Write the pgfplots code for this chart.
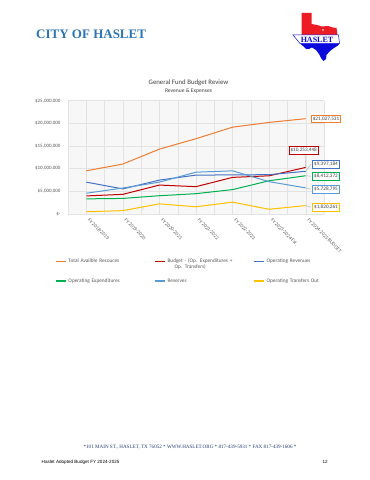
\documentclass[border=0pt]{standalone}
\usepackage{pgfplots}
\pgfplotsset{compat=1.18}
\usepackage{fontspec}
\setmainfont{Carlito}
\newfontfamily\tnr{Liberation Serif}
\newfontfamily\arial{Liberation Sans}
\definecolor{cOrange}{RGB}{237,125,49}
\definecolor{cRed}{RGB}{192,0,0}
\definecolor{cBlue}{RGB}{68,114,196}
\definecolor{cGreen}{RGB}{0,176,80}
\definecolor{cLBlue}{RGB}{91,155,213}
\definecolor{cYellow}{RGB}{255,192,0}
\definecolor{tgray}{RGB}{89,89,89}
\definecolor{dgray}{RGB}{64,64,64}
\definecolor{hdrblue}{RGB}{46,117,182}
\definecolor{txred}{RGB}{237,28,36}
\definecolor{txblue}{RGB}{10,10,220}
\definecolor{footblue}{RGB}{40,60,120}
\tikzset{legtext/.style={text width=84pt, align=left, text height=3.7pt, text depth=1pt},
  lbl/.style={fill=white, line width=0.8pt, inner sep=1.6pt, text=dgray, font=\fontsize{5.2}{6}\selectfont}}
\begin{document}
\begin{tikzpicture}
\path[use as bounding box, fill=white] (0pt,0pt) rectangle (370pt,480pt);
% header
\node[anchor=base west, inner sep=0, text=hdrblue, font=\tnr\bfseries\fontsize{13}{14}\selectfont] at (36pt,441pt) {CITY OF HASLET};
% logo
\fill[txred] (301.5pt,467pt) -- (311.5pt,467pt) -- (311.5pt,456pt) -- (317pt,455pt) -- (322pt,453.5pt) -- (328pt,454pt) -- (333pt,452.5pt) -- (336.5pt,452pt) -- (337.5pt,445pt) -- (301.5pt,445pt) -- cycle;
\fill[white] (323pt,450pt) circle (0.8pt);
\fill[txblue] (300pt,436.5pt) -- (303pt,434pt) -- (306pt,431pt) -- (309pt,431pt) -- (312pt,432.5pt) -- (316pt,430pt) -- (319pt,426pt) -- (321pt,422pt) -- (323.5pt,419pt) -- (326pt,421pt) -- (326.5pt,425pt) -- (330pt,429pt) -- (334pt,432pt) -- (338pt,434.5pt) -- (339.5pt,436.5pt) -- cycle;
\draw[txblue, fill=white, line width=0.5pt] (293pt,445pt) -- (338.5pt,445pt) -- (339.5pt,436.5pt) -- (300pt,436.5pt) -- cycle;
\node[text=txblue, font=\tnr\bfseries\fontsize{8}{9}\selectfont, inner sep=0] at (317pt,440.6pt) {HASLET};
% chart titles
\node[font=\fontsize{6.8}{8}\selectfont, text=dgray] at (188.5pt,397.3pt) {General Fund Budget Review};
\node[font=\fontsize{5.6}{7}\selectfont, text=dgray] at (188.5pt,389.3pt) {Revenue \& Expenses};
\begin{axis}[
  at={(68pt,266.2pt)}, anchor=south west,
  scale only axis, width=256pt, height=113.1pt,
  xmin=-0.5, xmax=6.5, ymin=0, ymax=25000000,
  axis line style={draw=none},
  axis background/.style={fill=gray!6},
  xtick={0,...,6},
  xticklabels={FY 2018-2019, FY 2019-2020, FY 2020-2021, FY 2021-2022, FY 2022-2023, FY 2023-2024 Est., FY 2024-2025 BUDGET},
  minor xtick={-0.5,0.5,...,6.5},
  ytick={0,5000000,10000000,15000000,20000000,25000000},
  yticklabels={{\$-},{\$5,000,000},{\$10,000,000},{\$15,000,000},{\$20,000,000},{\$25,000,000}},
  grid=both,
  major grid style={draw=gray!22, line width=0.4pt},
  minor grid style={draw=gray!22, line width=0.4pt},
  major tick length=0pt, minor tick length=0pt,
  scaled y ticks=false,
  ticklabel style={font=\fontsize{5}{6}\selectfont, text=tgray},
  yticklabel style={xshift=-4pt},
  xticklabel style={yshift=-3pt, rotate=-45, anchor=west},
  clip=false,
  legend columns=3,
  legend style={at={(axis description cs:-0.05,-0.38)}, anchor=north west,
    draw=none, fill=none, inner sep=0pt,
    font=\fontsize{5.3}{5.8}\selectfont, text=tgray,
    /tikz/every even column/.append style={column sep=0pt},
    row sep=11pt},
  legend image code/.code={\draw[#1, line width=1.1pt] (0pt,0pt) -- (10pt,0pt);},
  every axis plot/.append style={line width=1pt, mark=none},
]
\addplot[cOrange] coordinates {(0,9500000) (1,11000000) (2,14300000) (3,16600000) (4,19150000) (5,20200000) (6,21027531)};
\addlegendentry[legtext]{Total Availble Resouces}
\addplot[cRed] coordinates {(0,3950000) (1,4300000) (2,6350000) (3,6000000) (4,8050000) (5,8400000) (6,10253448)};
\addlegendentry[legtext]{Budget - (Op. Expenditures +\\\hspace*{7pt}Op. Transfers)}
\addplot[cBlue] coordinates {(0,7000000) (1,5500000) (2,7450000) (3,8550000) (4,8600000) (5,8650000) (6,9397184)};
\addlegendentry[legtext]{Operating Revenues}
\addplot[cGreen] coordinates {(0,3300000) (1,3400000) (2,4000000) (3,4450000) (4,5350000) (5,7300000) (6,8412372)};
\addlegendentry[legtext]{Operating Expenditures}
\addplot[cLBlue] coordinates {(0,4550000) (1,5700000) (2,7000000) (3,9200000) (4,9500000) (5,7100000) (6,5728795)};
\addlegendentry[legtext]{Reserves}
\addplot[cYellow] coordinates {(0,450000) (1,700000) (2,2200000) (3,1550000) (4,2580000) (5,1000000) (6,1820261)};
\addlegendentry[legtext]{Operating Transfers Out}
% data labels
\draw[gray!60, line width=0.4pt] (axis cs:6,10253448) -- (axis cs:5.98,13220000);
\draw[gray!60, line width=0.4pt] (axis cs:6,9397184) -- (axis cs:6.14,10940000);
\draw[gray!60, line width=0.4pt] (axis cs:6,8412372) -- (axis cs:6.14,8310000);
\draw[gray!60, line width=0.4pt] (axis cs:6,5728795) -- (axis cs:6.14,5420000);
\draw[gray!60, line width=0.4pt] (axis cs:6,1820261) -- (axis cs:6.14,1460000);
\node[lbl, draw=cOrange] at (axis cs:6.555,20950000) {\$21,027,531};
\node[lbl, draw=cRed] at (axis cs:5.945,14040000) {\$10,253,448};
\node[lbl, draw=cBlue] at (axis cs:6.555,10940000) {\$9,397,184};
\node[lbl, draw=cGreen] at (axis cs:6.555,8310000) {\$8,412,372};
\node[lbl, draw=cLBlue] at (axis cs:6.555,5420000) {\$5,728,795};
\node[lbl, draw=cYellow] at (axis cs:6.555,1460000) {\$1,820,261};
\end{axis}
% footer
\node[font=\tnr\fontsize{5.1}{6}\selectfont, text=footblue, inner sep=0] at (190pt,33.3pt) {*101 MAIN ST., HASLET, TX 76052 * WWW.HASLET.ORG * 817-439-5931 * FAX 817-439-1606 *};
\node[anchor=base west, font=\arial\fontsize{4.6}{5}\selectfont, inner sep=0] at (41.5pt,16.5pt) {Haslet Adopted Budget FY 2024-2025};
\node[anchor=base east, font=\arial\fontsize{4.6}{5}\selectfont, inner sep=0] at (328pt,16.5pt) {12};
\end{tikzpicture}
\end{document}
